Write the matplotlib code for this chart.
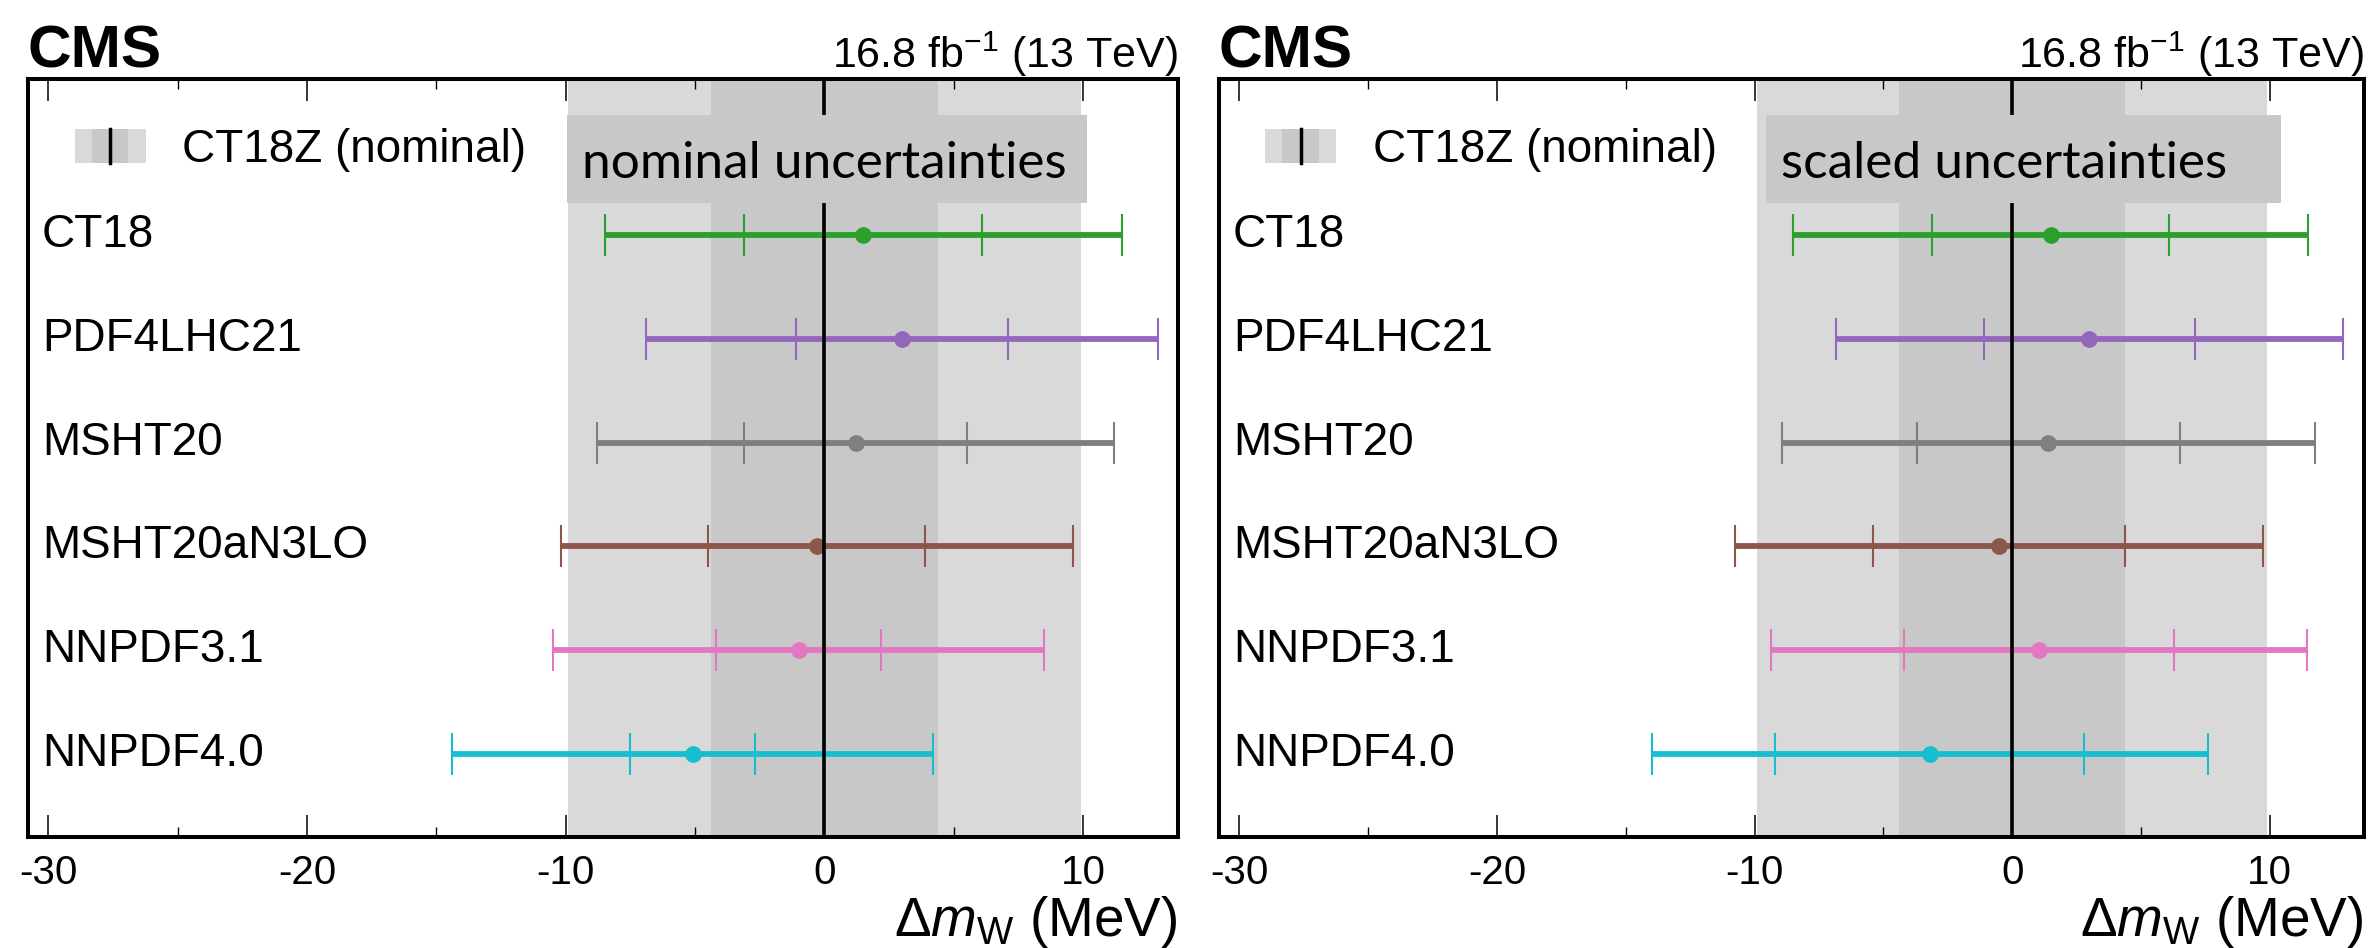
import matplotlib
matplotlib.use('Agg')
import matplotlib.pyplot as plt
from matplotlib.patches import Rectangle
from matplotlib.lines import Line2D
from matplotlib.legend_handler import HandlerBase
import matplotlib.transforms as mtransforms

plt.rcParams['font.family'] = ['Liberation Sans', 'DejaVu Sans']
plt.rcParams['mathtext.fontset'] = 'custom'
plt.rcParams['mathtext.rm'] = 'Liberation Sans'
plt.rcParams['mathtext.it'] = 'Liberation Sans:italic'
plt.rcParams['mathtext.bf'] = 'Liberation Sans:bold'
plt.rcParams['axes.unicode_minus'] = False

# PDF sets, top to bottom
pdf_sets = ['CT18', 'PDF4LHC21', 'MSHT20', 'MSHT20aN3LO', 'NNPDF3.1', 'NNPDF4.0']
set_colors = ['#2ca02c', '#9467bd', '#7f7f7f', '#8c564b', '#e377c2', '#17becf']

# nominal uncertainties (MeV): shift, PDF unc, total unc
shift_nom = [1.5, 3.0, 1.2, -0.3, -1.0, -5.1]
pdf_unc_nom = [4.6, 4.1, 4.3, 4.2, 3.2, 2.4]
tot_unc_nom = [10.0, 9.9, 10.0, 9.9, 9.5, 9.3]

# scaled uncertainties
shift_scl = [1.5, 3.0, 1.4, -0.5, 1.05, -3.2]
pdf_unc_scl = [4.6, 4.1, 5.1, 4.9, 5.25, 6.0]
tot_unc_scl = [10.0, 9.85, 10.35, 10.25, 10.4, 10.8]

# CT18Z reference bands
ref_pdf_unc = 4.4
ref_tot_unc = 9.9

light = '#d9d9d9'
dark = '#c8c8c8'


class BandHandler(HandlerBase):
    def create_artists(self, legend, orig_handle, xdescent, ydescent,
                       width, height, fontsize, trans):
        x0 = -xdescent
        y0 = -ydescent
        frac = 0.52
        outer = Rectangle((x0, y0), width, height, facecolor=light,
                          edgecolor='none', transform=trans)
        inner = Rectangle((x0 + width * (1 - frac) / 2, y0), width * frac, height,
                          facecolor=dark, edgecolor='none', transform=trans)
        cx = x0 + width / 2
        line = Line2D([cx, cx], [y0, y0 + height], color='black', lw=2.5,
                      transform=trans)
        return [outer, inner, line]


fig = plt.figure(figsize=(23.68, 9.48), dpi=100)
ax1 = fig.add_axes([0.0117, 0.1171, 0.4856, 0.7993])
ax2 = fig.add_axes([0.5147, 0.1171, 0.4835, 0.7993])

panels = [
    (ax1, shift_nom, pdf_unc_nom, tot_unc_nom, 'nominal uncertainties', (-9.95, 10.15)),
    (ax2, shift_scl, pdf_unc_scl, tot_unc_scl, 'scaled uncertainties', (-9.55, 10.45)),
]

ypos = list(range(len(pdf_sets)))

for ax, shift, pdf_unc, tot_unc, tag, box_x in panels:
    ax.axvspan(-ref_tot_unc, ref_tot_unc, color=light, lw=0, zorder=0)
    ax.axvspan(-ref_pdf_unc, ref_pdf_unc, color=dark, lw=0, zorder=0.5)

    trans = mtransforms.blended_transform_factory(ax.transAxes, ax.transData)
    for i in range(len(pdf_sets)):
        ax.errorbar(shift[i], ypos[i], xerr=tot_unc[i], fmt='o', color=set_colors[i],
                    ms=11, elinewidth=4.2, capsize=15, capthick=1.5, zorder=2)
        ax.errorbar(shift[i], ypos[i], xerr=pdf_unc[i], fmt='none', ecolor=set_colors[i],
                    elinewidth=0, capsize=15, capthick=1.5, zorder=2)
        ax.text(0.0125, ypos[i], pdf_sets[i], transform=trans, ha='left', va='center',
                fontsize=33)

    ax.axvline(0, color='black', lw=2.6, zorder=3)

    ax.add_patch(Rectangle((box_x[0], -1.157), box_x[1] - box_x[0], 0.846,
                           facecolor=dark, edgecolor='none', zorder=4))
    ax.text(box_x[0] + 0.58, -0.55, tag, ha='left', va='baseline', fontsize=37,
            family='Lato', zorder=5)

    ax.set_xlim(-30.8, 13.65)
    ax.set_ylim(5.8, -1.5)
    ax.set_yticks([])
    ax.set_xticks([-30, -20, -10, 0, 10])
    ax.set_xticks([-25, -15, -5, 5], minor=True)
    ax.tick_params(axis='x', which='both', direction='in', top=True, bottom=True,
                   labelsize=29, pad=12)
    ax.tick_params(axis='x', which='major', length=16, width=1.1)
    ax.tick_params(axis='x', which='minor', length=7, width=1.0)
    for s in ax.spines.values():
        s.set_linewidth(2.9)

    ax.set_xlabel(r'$\Delta m_{\mathrm{W}}$ (MeV)', fontsize=39.5, loc='right', labelpad=2)

    ax.legend([object()], ['CT18Z (nominal)'], handler_map={object: BandHandler()},
              loc='center left', bbox_to_anchor=(0.0407, 0.907), frameon=False,
              fontsize=33, borderpad=0, borderaxespad=0, handlelength=1.55,
              handleheight=0.75, handletextpad=0.8)

    ax.text(0.0, 1.015, 'CMS', transform=ax.transAxes, ha='left', va='baseline',
            fontsize=43.5, fontweight='bold')
    ax.text(1.0, 1.015, r'16.8 fb$^{-1}$ (13 TeV)', transform=ax.transAxes, ha='right',
            va='baseline', fontsize=31)

fig.savefig('out.png', dpi=100)
